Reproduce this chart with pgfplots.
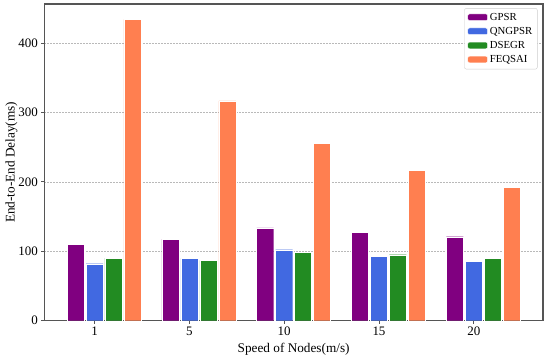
\documentclass[border=0pt]{standalone}
\usepackage{pgfplots}
\pgfplotsset{compat=1.18}
\usepackage{fontspec}
\setmainfont{Liberation Serif}
\definecolor{cpurple}{HTML}{800080}
\definecolor{cblue}{HTML}{4169E1}
\definecolor{cgreen}{HTML}{228B22}
\definecolor{corange}{HTML}{FF7F50}
\definecolor{frame}{HTML}{555555}
\begin{document}
\begin{tikzpicture}
\begin{axis}[
  scale only axis,
  width=498.7bp, height=316.7bp,
  ybar,
  bar width=0.18,
  xmin=-0.53, xmax=4.73,
  ymin=0, ymax=456,
  xtick={0,1,2,3,4},
  xticklabels={1,5,10,15,20},
  ytick={0,100,200,300,400},
  /pgf/number format/assume math mode=true,
  tick label style={font=\fontsize{13}{15}\selectfont, text=black},
  label style={font=\fontsize{13.3}{15}\selectfont},
  xlabel={Speed of Nodes(m/s)},
  ylabel={End-to-End Delay(ms)},
  xlabel style={yshift=0bp},
  ylabel style={yshift=-6bp},
  axis line style={frame, line width=1.1pt},
  tick style={frame, line width=0.6pt},
  tick align=outside,
  major tick length=3bp,
  xtick pos=bottom, ytick pos=left,
  ymajorgrids,
  grid style={gray!55, dash pattern=on 2bp off 1bp, line width=0.5pt},
  legend style={at={(0.989,0.987)}, anchor=north east, font=\fontsize{10.8}{12}\selectfont,
    draw=gray!40, rounded corners=2pt, row sep=1.5pt, inner sep=3pt},
  legend cell align=left,
  legend image code/.code={\fill[#1] (0bp,-3bp) rectangle (20bp,3.7bp);},
]
\addplot[fill=cpurple, draw=white, line width=0.4pt, bar shift=-0.2] coordinates {(0,110.4) (1,117.6) (2,133.8) (3,127.6) (4,120.9)};
\addplot[fill=cblue, draw=white, line width=0.4pt, bar shift=0] coordinates {(0,82) (1,89.8) (2,102.2) (3,92.6) (4,85)};
\addplot[fill=cgreen, draw=white, line width=0.4pt, bar shift=0.2] coordinates {(0,90.2) (1,86.9) (2,98.4) (3,95) (4,90.2)};
\addplot[fill=corange, draw=white, line width=0.4pt, bar shift=0.4] coordinates {(0,434) (1,316.5) (2,255) (3,216.8) (4,192)};
\legend{GPSR,QNGPSR,DSEGR,FEQSAI}
\end{axis}
\pgfresetboundingbox
\path (current axis.south west) +(-44.3bp,-36.3bp) (current axis.north east) +(7bp,4bp);
\end{tikzpicture}
\end{document}
